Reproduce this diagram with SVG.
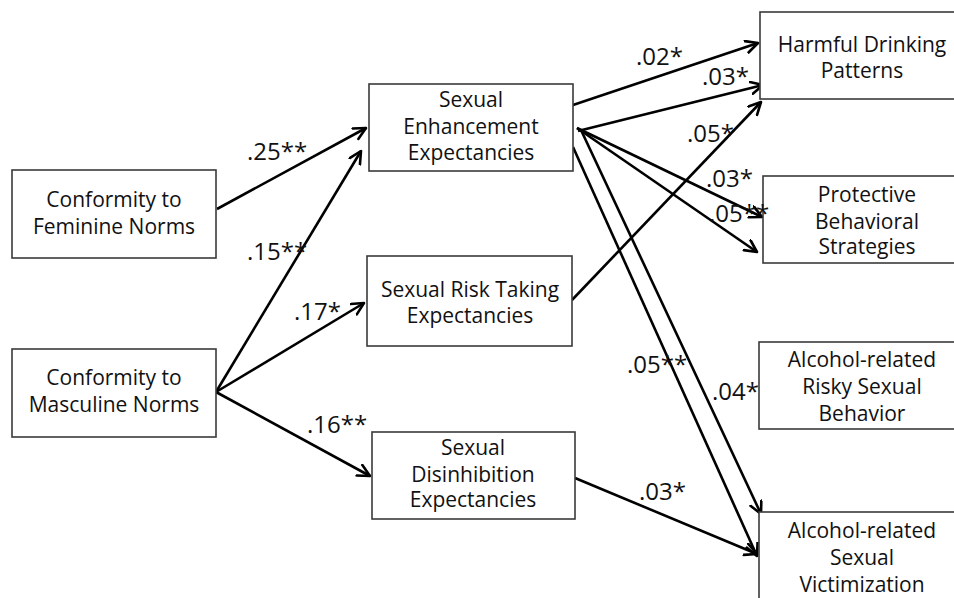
<svg xmlns="http://www.w3.org/2000/svg" width="954" height="598" viewBox="0 0 954 598">
<style>
.box{fill:#fff;stroke:#3a3a3a;stroke-width:1.6}
.sh{fill:none;stroke:#bbb;stroke-width:2}
.t{font-family:"Open Sans","Liberation Sans",sans-serif;font-size:21px;fill:#111;text-anchor:middle}
.l{font-family:"Open Sans","Liberation Sans",sans-serif;font-size:24px;fill:#111}
.c{fill:none;stroke:#000;stroke-width:2.6;marker-end:url(#ah)}
</style>
<defs>
<marker id="ah" markerUnits="userSpaceOnUse" markerWidth="20" markerHeight="20" refX="13" refY="7" orient="auto">
<path d="M1,1 L13,7 L1,13" fill="none" stroke="#000" stroke-width="2.6" stroke-linecap="round" stroke-linejoin="round"/>
</marker>
</defs>
<rect width="954" height="598" fill="#fff"/>
<g id="connectors">
<line class="c" x1="217" y1="209" x2="366" y2="128"/>
<line class="c" x1="216" y1="392" x2="361" y2="151"/>
<line class="c" x1="216" y1="392" x2="364" y2="303"/>
<line class="c" x1="216" y1="392" x2="370" y2="476"/>
<line class="c" x1="573" y1="105" x2="758" y2="43"/>
<line class="c" x1="578" y1="131" x2="763" y2="85"/>
<line class="c" x1="572" y1="300" x2="761" y2="102"/>
<line class="c" x1="577" y1="128" x2="762" y2="217"/>
<line class="c" x1="577" y1="128" x2="757" y2="252"/>
<line class="c" x1="581" y1="130" x2="761" y2="514"/>
<line class="c" x1="573" y1="147" x2="757" y2="556"/>
<line class="c" x1="575" y1="478" x2="757" y2="554"/>
</g>
<g id="n1"><rect class="box" x="12" y="170" width="204" height="88"/><text class="t" x="114" y="207">Conformity to</text><text class="t" x="114" y="234">Feminine Norms</text></g>
<g id="n2"><rect class="box" x="12" y="349" width="204" height="88"/><text class="t" x="114" y="385">Conformity to</text><text class="t" x="114" y="412">Masculine Norms</text></g>
<g id="n3"><rect class="box" x="369" y="84" width="204" height="87"/><text class="t" x="471" y="107">Sexual</text><text class="t" x="471" y="134">Enhancement</text><text class="t" x="471" y="160">Expectancies</text></g>
<g id="n4"><rect class="box" x="367" y="256" width="205" height="90"/><text class="t" x="470" y="297">Sexual Risk Taking</text><text class="t" x="470" y="323">Expectancies</text></g>
<g id="n5"><rect class="box" x="372" y="432" width="203" height="87"/><text class="t" x="473" y="455">Sexual</text><text class="t" x="473" y="482">Disinhibition</text><text class="t" x="473" y="507">Expectancies</text></g>
<g id="n6"><rect class="box" x="760" y="12" width="200" height="87"/><text class="t" x="862" y="52">Harmful Drinking</text><text class="t" x="862" y="78">Patterns</text></g>
<g id="n7"><rect class="box" x="763" y="176" width="200" height="87"/><text class="t" x="867" y="202">Protective</text><text class="t" x="867" y="229">Behavioral</text><text class="t" x="867" y="254">Strategies</text></g>
<g id="n8"><rect class="box" x="759" y="342" width="200" height="87"/><text class="t" x="862" y="367">Alcohol-related</text><text class="t" x="862" y="394">Risky Sexual</text><text class="t" x="862" y="421">Behavior</text></g>
<g id="n9"><rect class="box" x="759" y="512" width="200" height="100"/><text class="t" x="862" y="538">Alcohol-related</text><text class="t" x="862" y="565">Sexual</text><text class="t" x="862" y="592">Victimization</text></g>
<g id="labels">
<text class="l" x="247" y="160">.25**</text>
<text class="l" x="247" y="260">.15**</text>
<text class="l" x="294" y="320">.17*</text>
<text class="l" x="307" y="433">.16**</text>
<text class="l" x="636" y="65">.02*</text>
<text class="l" x="702" y="85">.03*</text>
<text class="l" x="687" y="142">.05*</text>
<text class="l" x="706" y="187">.03*</text>
<text class="l" x="709" y="222">.05**</text>
<text class="l" x="627" y="373">.05**</text>
<text class="l" x="712" y="400">.04*</text>
<text class="l" x="639" y="500">.03*</text>
</g>
</svg>
